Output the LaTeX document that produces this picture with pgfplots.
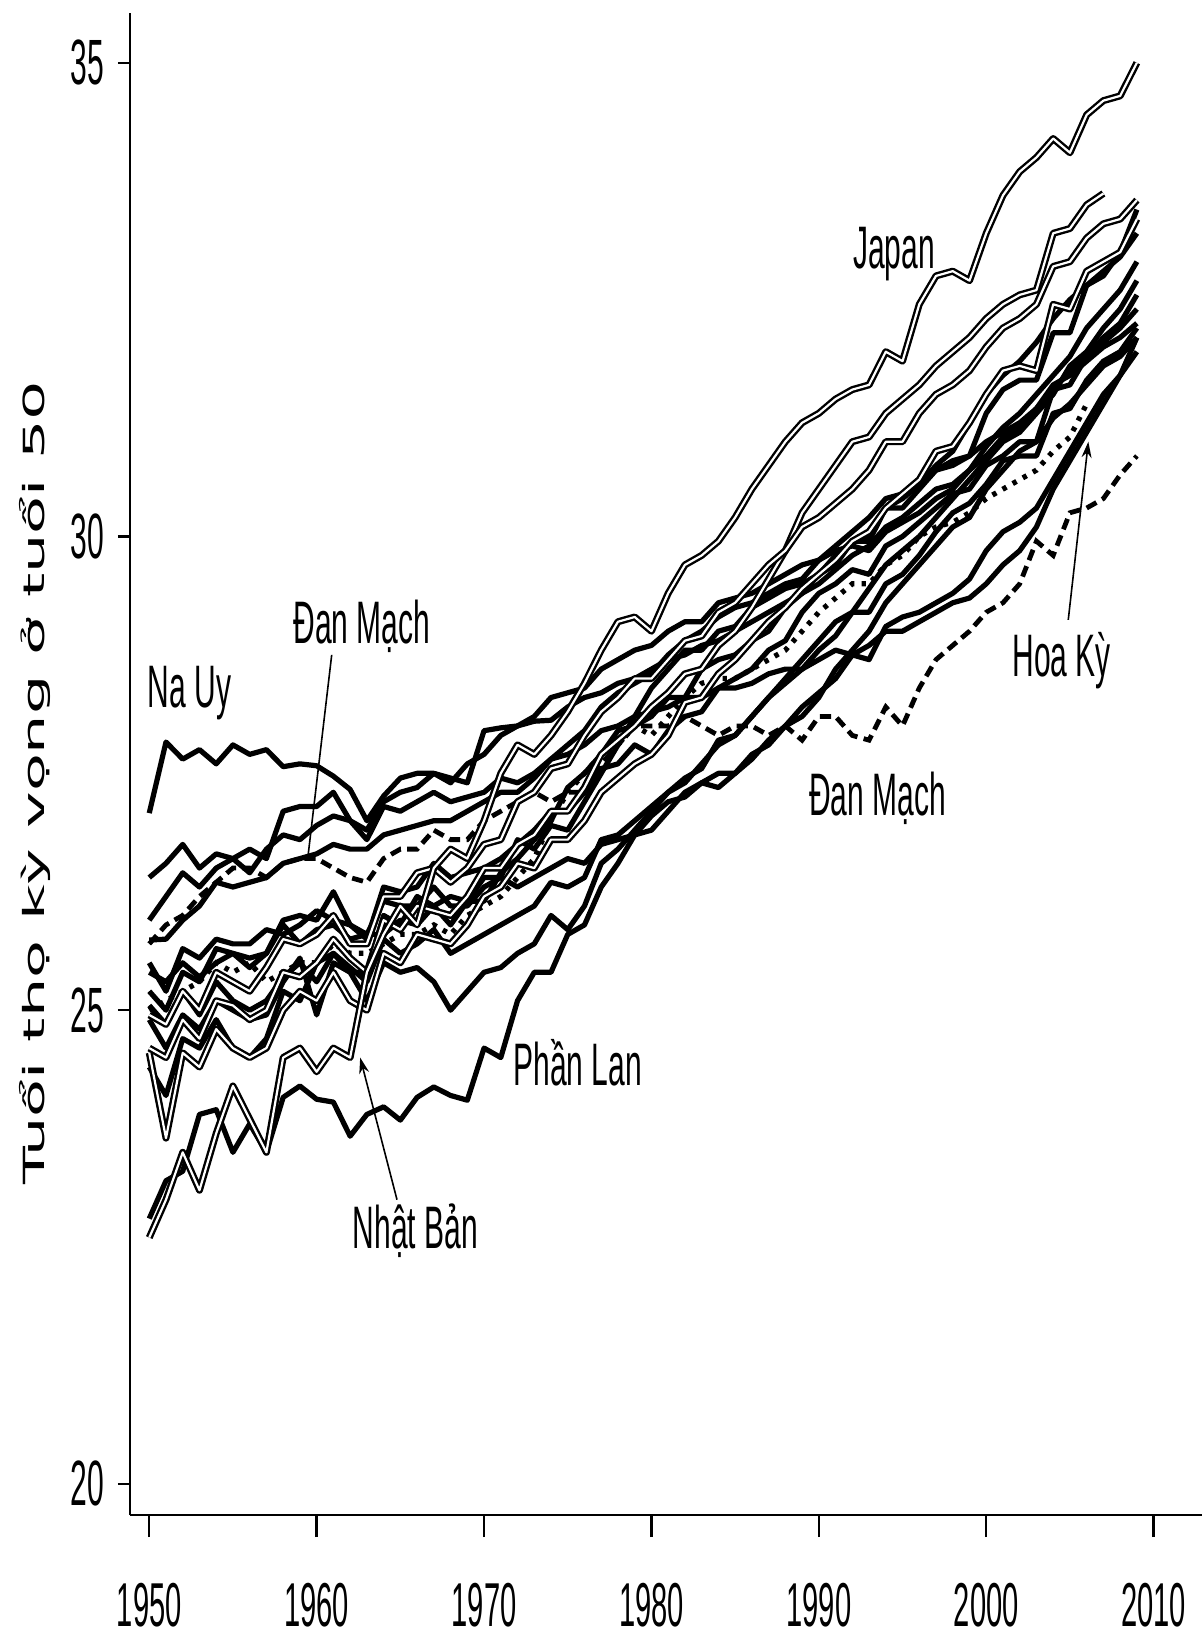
\documentclass[border=0pt]{standalone}
\usepackage{fontspec}
\setmainfont{Liberation Sans}
\newfontfamily\condfont{Liberation Sans}[FakeStretch=0.5]
\newfontfamily\tickfont{Liberation Sans}[FakeStretch=0.47]
\newfontfamily\labfont{DejaVu Sans}
\usepackage{pgfplots}
\pgfplotsset{compat=1.18}
\usepackage{pgfplotstable}
\usetikzlibrary{arrows.meta}

% life expectancy at age 50, one column per country
\pgfplotstableread{
year J NO FI DK US SE NL FR CH ES IT AU CA UK BE DE AT
1950 22.6 27.08 22.8 25.7 25.0 26.4 25.95 24.6 24.95 24.4 24.55 25.4 25.74 25.5 25.2 25.05 24.9
1951 23.0 27.83 23.2 25.9 25.1 26.55 26.2 24.5 24.85 24.1 23.65 25.3 25.75 25.2 25.0 24.85 24.6
1952 23.5 27.65 23.3 26.0 25.2 26.75 26.45 24.9 25.2 24.7 24.55 25.5 25.95 25.65 25.4 25.2 24.95
1953 23.1 27.75 23.9 26.2 25.3 26.5 26.3 24.7 25.0 24.6 24.4 25.35 26.1 25.55 25.3 24.95 24.8
1954 23.7 27.6 23.95 26.35 25.5 26.65 26.5 25.1 25.4 24.9 24.8 25.5 26.35 25.75 25.65 25.3 25.1
1955 24.2 27.8 23.5 26.5 25.4 26.6 26.6 25.05 25.3 24.6 24.6 25.6 26.3 25.7 25.6 25.1 25.0
1956 23.85 27.7 23.8 26.5 25.5 26.7 26.45 24.9 25.2 24.5 24.5 25.45 26.35 25.7 25.55 25.0 24.9
1957 23.5 27.75 23.5 26.4 25.3 26.6 26.7 25.0 25.45 24.7 24.6 25.6 26.4 25.85 25.6 25.1 24.95
1958 24.5 27.57 24.08 26.55 25.4 27.1 26.85 25.4 25.75 25.2 25.0 25.9 26.55 25.8 25.95 25.35 25.3
1959 24.6 27.6 24.2 26.6 25.5 27.15 26.8 25.35 25.7 25.1 25.2 25.7 26.6 25.9 26.0 25.5 25.55
1960 24.35 27.58 24.06 26.6 25.5 27.15 26.95 25.5 25.8 25.5 25.1 25.85 26.65 26.05 25.95 25.3 24.95
1961 24.6 27.47 24.03 26.5 25.7 27.3 27.05 25.75 26.0 25.6 25.4 25.9 26.75 25.95 26.25 25.6 25.5
1962 24.5 27.33 23.67 26.4 25.6 27.0 27.0 25.55 25.7 25.4 25.1 25.75 26.7 25.9 25.9 25.45 25.4
1963 25.4 27.0 23.9 26.35 25.6 26.9 26.8 25.4 25.7 25.4 25.0 25.8 26.7 25.8 25.75 25.3 25.1
1964 25.8 27.26 23.98 26.6 25.7 27.2 27.15 25.95 26.2 26.0 25.6 25.8 26.85 26.15 26.3 25.75 25.5
1965 26.1 27.45 23.84 26.7 25.8 27.3 27.1 25.85 26.2 25.9 25.5 25.95 26.9 26.1 26.25 25.6 25.4
1966 25.9 27.5 24.08 26.7 25.8 27.35 27.2 26.1 26.45 26.2 25.8 25.9 26.95 26.1 26.3 25.7 25.45
1967 26.5 27.5 24.19 26.9 25.9 27.5 27.3 26.05 26.5 26.1 25.75 26.1 27.0 26.3 26.55 25.85 25.3
1968 26.7 27.45 24.1 26.8 25.8 27.4 27.2 26.0 26.35 26.2 25.7 25.9 27.0 26.1 26.4 25.6 25.0
1969 26.6 27.4 24.05 26.8 26.0 27.6 27.25 26.2 26.5 26.15 25.9 26.15 27.1 26.1 26.45 25.7 25.2
1970 27.0 27.95 24.6 27.0 26.1 27.7 27.3 26.5 26.75 26.4 26.2 26.15 27.2 26.3 26.5 25.8 25.4
1971 27.5 27.98 24.5 27.1 26.2 27.9 27.45 26.5 26.8 26.4 26.3 26.45 27.3 26.4 26.6 25.9 25.45
1972 27.8 28.0 25.1 27.2 26.4 28.0 27.4 26.75 27.2 26.8 26.55 26.6 27.3 26.3 26.75 26.0 25.6
1973 27.7 28.05 25.4 27.3 26.6 28.1 27.5 26.85 27.3 26.7 26.5 26.8 27.45 26.4 26.9 26.1 25.7
1974 27.9 28.06 25.4 27.2 27.0 28.3 27.65 27.1 27.55 26.95 26.8 27.0 27.65 26.5 27.1 26.35 26.0
1975 28.15 28.2 25.8 27.3 27.3 28.35 27.7 27.1 27.6 26.9 26.8 27.35 27.8 26.6 27.1 26.3 25.85
1976 28.45 28.3 25.9 27.3 27.5 28.4 27.8 27.35 27.9 27.2 27.0 27.5 27.95 26.55 27.3 26.4 26.1
1977 28.8 28.35 26.3 27.6 27.7 28.6 27.95 27.7 28.15 27.5 27.3 27.7 28.2 26.75 27.55 26.8 26.55
1978 29.1 28.45 26.55 27.8 27.8 28.7 28.0 27.85 28.3 27.8 27.45 27.95 28.35 26.8 27.6 26.85 26.7
1979 29.15 28.5 26.85 28.0 28.0 28.8 28.1 28.0 28.5 28.1 27.6 28.0 28.45 26.85 27.8 27.0 26.9
1980 29.0 28.6 26.9 28.0 27.9 28.85 28.15 28.2 28.5 28.4 27.7 28.1 28.55 27.05 27.7 27.15 27.1
1981 29.4 28.7 27.1 28.0 28.1 29.0 28.2 28.35 28.7 28.6 27.9 28.3 28.75 27.2 27.95 27.3 27.3
1982 29.7 28.75 27.3 28.1 28.3 29.1 28.3 28.55 28.9 28.8 28.25 28.3 28.9 27.25 28.1 27.45 27.4
1983 29.8 28.85 27.4 28.0 28.45 29.1 28.3 28.6 28.95 28.8 28.3 28.6 29.0 27.4 28.15 27.55 27.6
1984 29.95 28.9 27.35 27.9 28.5 29.3 28.4 28.85 29.2 29.0 28.55 28.7 29.15 27.5 28.4 27.85 27.8
1985 30.2 29.0 27.5 28.0 28.5 29.35 28.4 29.0 29.3 29.05 28.7 28.75 29.25 27.5 28.5 27.9 27.9
1986 30.5 29.1 27.7 28.0 28.6 29.4 28.45 29.25 29.5 29.25 28.9 28.9 29.3 27.65 28.6 28.1 28.1
1987 30.75 29.2 27.8 27.9 28.7 29.5 28.55 29.55 29.7 29.35 29.1 29.0 29.4 27.85 28.8 28.3 28.3
1988 31.0 29.3 28.0 28.0 28.8 29.6 28.6 29.85 29.85 29.45 29.25 29.25 29.5 28.0 28.9 28.45 28.5
1989 31.2 29.4 28.1 27.85 29.0 29.7 28.6 30.25 30.1 29.5 29.45 29.4 29.55 28.2 29.2 28.6 28.7
1990 31.3 29.5 28.3 28.1 29.2 29.75 28.7 30.5 30.2 29.6 29.6 29.6 29.75 28.35 29.4 28.8 28.9
1991 31.45 29.65 28.6 28.1 29.35 29.9 28.8 30.75 30.35 29.7 29.75 29.8 29.85 28.5 29.5 28.95 29.1
1992 31.55 29.8 28.8 27.9 29.5 30.05 28.75 31.0 30.5 29.95 29.95 29.95 29.9 28.75 29.65 29.2 29.2
1993 31.6 29.9 29.0 27.85 29.5 30.2 28.85 31.05 30.7 29.95 30.05 30.0 29.85 28.7 29.6 29.2 29.45
1994 31.95 30.1 29.3 28.2 29.7 30.4 29.0 31.3 31.0 30.3 30.3 30.3 30.05 29.05 29.9 29.5 29.7
1995 31.85 30.2 29.5 28.0 29.8 30.45 29.0 31.45 31.0 30.3 30.45 30.4 30.15 29.15 30.0 29.6 29.85
1996 32.45 30.35 29.7 28.4 30.0 30.6 29.1 31.6 31.3 30.5 30.6 30.55 30.25 29.2 30.15 29.8 30.0
1997 32.75 30.5 29.9 28.7 30.1 30.7 29.2 31.8 31.5 30.7 30.9 30.75 30.4 29.3 30.3 30.05 30.2
1998 32.8 30.55 30.1 28.85 30.15 30.8 29.3 31.95 31.6 30.75 30.95 30.9 30.5 29.4 30.45 30.25 30.4
1999 32.7 30.7 30.2 29.0 30.25 30.85 29.35 32.1 31.75 30.85 31.2 31.2 30.7 29.55 30.5 30.35 30.6
2000 33.2 30.85 30.5 29.2 30.4 31.0 29.5 32.3 32.0 31.3 31.5 31.5 30.95 29.85 30.75 30.55 30.8
2001 33.6 31.05 30.7 29.3 30.5 31.1 29.7 32.45 32.2 31.55 31.75 31.7 31.15 30.05 30.85 30.8 31.0
2002 33.85 31.15 30.9 29.5 30.6 31.2 29.85 32.55 32.3 31.65 31.8 31.85 31.3 30.15 31.0 30.85 31.1
2003 34.0 31.35 31.0 29.95 30.7 31.35 30.1 32.6 32.45 31.65 31.75 32.05 31.5 30.3 31.0 30.85 31.3
2004 34.2 31.55 31.25 29.8 30.9 31.6 30.5 33.2 32.85 32.15 32.45 32.3 31.7 30.6 31.55 31.3 31.5
2005 34.05 31.75 31.4 30.25 31.05 31.7 30.8 33.25 32.9 32.15 32.4 32.5 31.9 30.9 31.6 31.35 31.8
2006 34.45 31.9 31.6 30.3 31.4 31.85 31.1 33.5 33.15 32.65 32.8 32.65 32.2 31.2 31.9 31.65 31.95
2007 34.6 32.05 31.8 30.4 nan 32.0 31.4 33.62 33.3 32.75 32.9 32.8 32.4 31.5 32.1 31.85 32.2
2008 34.65 32.2 31.9 30.65 nan 32.1 31.7 nan 33.35 33.0 33.0 32.95 32.6 31.7 32.25 31.95 32.4
2009 35.0 32.4 32.1 30.85 nan 32.25 31.95 nan 33.55 33.45 33.35 33.2 32.9 32.1 32.55 32.2 32.7
}\lifetab

\pgfplotsset{
  solidln/.style={black, line width=1.3pt, line join=round},
  dblln/.style={black, line width=0.6pt, double=white, double distance=0.55pt, line join=round},
}
\tikzset{lab/.style={font=\condfont\fontsize{15}{18}\selectfont, anchor=base, inner sep=0pt}}

\begin{document}
\begin{tikzpicture}
\begin{axis}[
  scale only axis,
  width=268pt, height=375.5pt,
  xmin=1948.85, xmax=2012.89,
  ymin=19.672, ymax=35.525,
  axis lines*=left,
  axis line style={-, line width=0.7pt},
  xtick={1950,1960,...,2010},
  ytick={20,25,30,35},
  tick align=outside,
  major tick length=3pt,
  xtick style={/pgfplots/major tick length=5.5pt},
  tick style={black, line width=0.6pt},
  /pgf/number format/assume math mode=true,
  /pgf/number format/1000 sep={},
  xticklabel style={font=\tickfont\fontsize{15.5}{15.5}\selectfont, inner sep=0pt, yshift=-13.8pt},
  yticklabel style={font=\tickfont\fontsize{16}{16}\selectfont},
  ylabel={\scalebox{1}[0.47]{\labfont\fontsize{15.5}{15.5}\selectfont Tuổi thọ kỳ vọng ở tuổi 50}},
  every axis y label/.style={at={(axis description cs:-0.0886,0.4875)}, rotate=90, anchor=center},
  clip=false,
  unbounded coords=jump,
]
\addplot[solidln] table[x=year, y=NO] {\lifetab};
\addplot[solidln] table[x=year, y=FI] {\lifetab};
\addplot[solidln] table[x=year, y=SE] {\lifetab};
\addplot[solidln] table[x=year, y=NL] {\lifetab};
\addplot[solidln] table[x=year, y=ES] {\lifetab};
\addplot[solidln] table[x=year, y=AU] {\lifetab};
\addplot[solidln] table[x=year, y=CA] {\lifetab};
\addplot[solidln] table[x=year, y=UK] {\lifetab};
\addplot[solidln] table[x=year, y=BE] {\lifetab};
\addplot[solidln] table[x=year, y=DE] {\lifetab};
\addplot[solidln] table[x=year, y=AT] {\lifetab};
\addplot[black, line width=1.2pt, dash pattern=on 2.8pt off 1.6pt] table[x=year, y=DK] {\lifetab};
\addplot[black, line width=1.3pt, dash pattern=on 1.1pt off 1.8pt] table[x=year, y=US] {\lifetab};
\addplot[dblln] table[x=year, y=FR] {\lifetab};
\addplot[dblln] table[x=year, y=CH] {\lifetab};
\addplot[dblln] table[x=year, y=IT] {\lifetab};
\addplot[dblln] table[x=year, y=J] {\lifetab};

\node[lab] at (axis cs:1994.5,32.83) {Japan};
\node[lab] at (axis cs:1952.4,28.19) {Na Uy};
\node[lab] at (axis cs:1962.7,28.87) {Đan Mạch};
\node[lab] at (axis cs:1975.6,24.2) {Phần Lan};
\node[lab] at (axis cs:1965.9,22.49) {Nhật Bản};
\node[lab] at (axis cs:2004.5,28.52) {Hoa Kỳ};
\node[lab] at (axis cs:1993.5,27.06) {Đan Mạch};

\draw[black, line width=0.4pt] (axis cs:1960.9,28.75) -- (axis cs:1959.5,26.65);
\draw[black, line width=0.4pt, -{Stealth[length=4pt, width=2.5pt]}] (axis cs:1964.8,23.0) -- (axis cs:1962.6,24.5);
\draw[black, line width=0.4pt, -{Stealth[length=4pt, width=2.5pt]}] (axis cs:2004.9,29.12) -- (axis cs:2006.1,31.0);

% page size
\path (rel axis cs:0,0) -- ++(-32.5pt,-30.75pt);
\path (rel axis cs:1,1) -- ++(0pt,3.25pt);
\end{axis}
\end{tikzpicture}
\end{document}
